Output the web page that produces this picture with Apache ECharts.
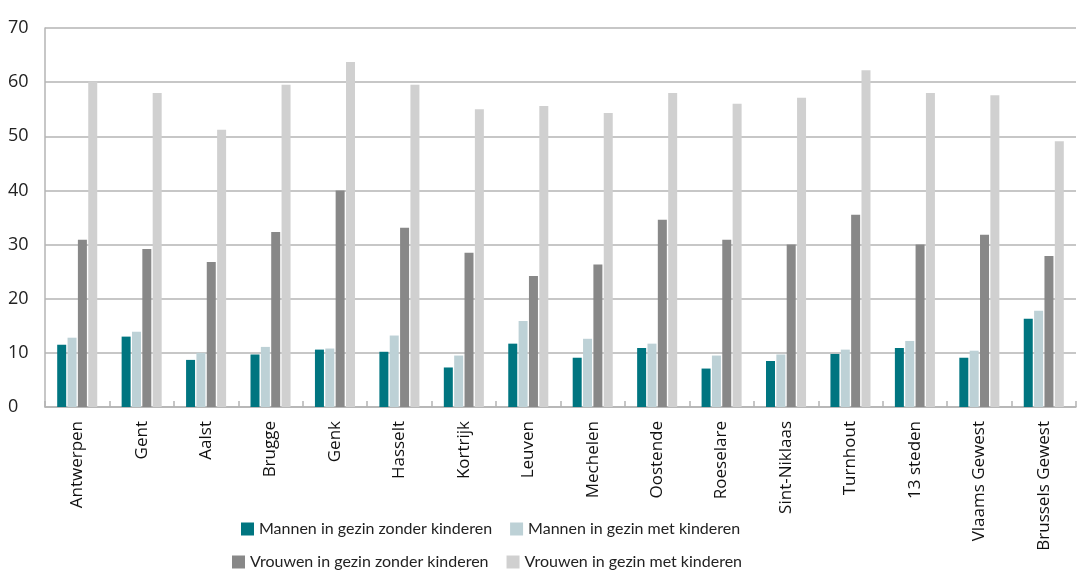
<!DOCTYPE html>
<html>
<head>
<meta charset="utf-8">
<script src="https://cdn.jsdelivr.net/npm/echarts@6/dist/echarts.min.js"></script>
<style>
  html, body { margin: 0; padding: 0; background: #fff; }
  #chart { width: 1077px; height: 572px; }
</style>
</head>
<body>
<div id="chart"></div>
<script>
// categories (steden)
var steden = ['Antwerpen', 'Gent', 'Aalst', 'Brugge', 'Genk', 'Hasselt', 'Kortrijk', 'Leuven',
  'Mechelen', 'Oostende', 'Roeselare', 'Sint-Niklaas', 'Turnhout', '13 steden', 'Vlaams Gewest', 'Brussels Gewest'];

var mannenZonder = [11.5, 13.0, 8.7, 9.7, 10.6, 10.2, 7.3, 11.7, 9.1, 10.9, 7.1, 8.5, 9.8, 10.9, 9.1, 16.3];
var mannenMet    = [12.8, 13.9, 10.0, 11.1, 10.8, 13.2, 9.5, 15.9, 12.6, 11.7, 9.5, 9.7, 10.6, 12.2, 10.4, 17.8];
var vrouwenZonder = [30.9, 29.2, 26.8, 32.3, 40.0, 33.1, 28.5, 24.2, 26.3, 34.6, 30.9, 30.0, 35.5, 30.0, 31.8, 27.9];
var vrouwenMet    = [60.1, 58.0, 51.2, 59.5, 63.7, 59.5, 55.0, 55.6, 54.3, 58.0, 56.0, 57.1, 62.2, 58.0, 57.6, 49.1];

var namen = ['Mannen in gezin zonder kinderen', 'Mannen in gezin met kinderen',
  'Vrouwen in gezin zonder kinderen', 'Vrouwen in gezin met kinderen'];
var kleuren = ['#007580', '#bdd1d6', '#888888', '#d0d0d0'];

var font = 'Open Sans';
var myChart = echarts.init(document.getElementById('chart'));

function bar(i, data) {
  return {
    name: namen[i],
    type: 'bar',
    data: data,
    barWidth: 9,
    barGap: '15%',
    itemStyle: { color: kleuren[i] },
    emphasis: { disabled: true }
  };
}

var legendStijl = {
  icon: 'rect',
  itemWidth: 13,
  itemHeight: 13,
  itemGap: 18,
  textStyle: { fontFamily: 'Lato', fontSize: 16, color: '#222' },
  selectedMode: false
};

option = {
  animation: false,
  color: kleuren,
  textStyle: { fontFamily: font },
  grid: { left: 45, right: 1, top: 28, bottom: 165, containLabel: false },
  legend: [
    Object.assign({ data: [namen[0], namen[1]], left: 236, top: 516 }, legendStijl),
    Object.assign({ data: [namen[2], namen[3]], left: 227, top: 549 }, legendStijl)
  ],
  xAxis: {
    type: 'category',
    data: steden,
    axisLine: { show: true, lineStyle: { color: '#b4b4b4', width: 1.5 } },
    axisTick: { show: true, inside: true, length: 6, lineStyle: { color: '#b4b4b4', width: 1.5 } },
    axisLabel: {
      rotate: 90,
      interval: 0,
      margin: 14,
      fontFamily: font,
      fontSize: 17,
      color: '#111'
    }
  },
  yAxis: {
    type: 'value',
    min: 0,
    max: 70,
    interval: 10,
    axisLine: { show: true, lineStyle: { color: '#b4b4b4', width: 1.5 } },
    axisTick: { show: false },
    splitLine: { lineStyle: { color: '#b4b4b4', width: 1.5 } },
    axisLabel: {
      align: 'left',
      margin: 37,
      padding: [0, 0, 12, 0],
      fontFamily: font,
      fontSize: 18,
      color: '#222'
    }
  },
  series: [
    bar(0, mannenZonder),
    bar(1, mannenMet),
    bar(2, vrouwenZonder),
    bar(3, vrouwenMet)
  ]
};

myChart.setOption(option);
</script>
</body>
</html>
